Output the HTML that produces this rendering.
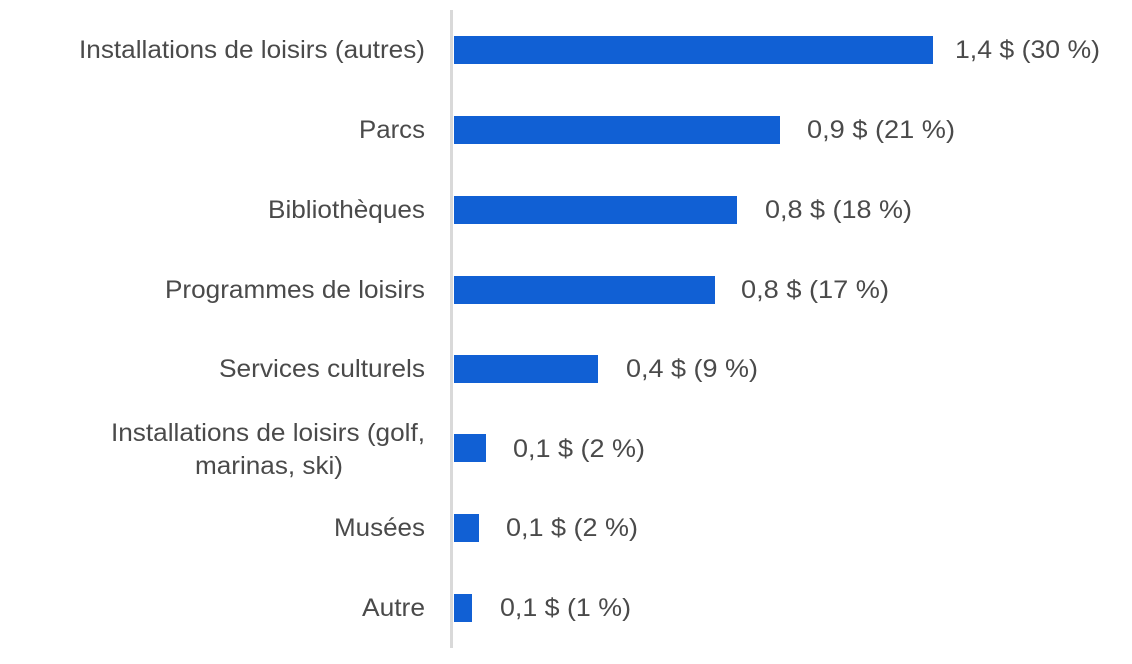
<!DOCTYPE html>
<html><head><meta charset="utf-8"><style>
html,body{margin:0;padding:0;background:#fff;}
svg{display:block}
text{font-family:"Liberation Sans",sans-serif;font-size:25px;fill:#4a4a4a;}
</style></head><body>
<svg width="1132" height="664" viewBox="0 0 1132 664">
<rect x="450" y="10" width="3" height="638" fill="#d9d9d9"/>
<g fill="#1160d4">
<rect x="454" y="36" width="479" height="28"/>
<rect x="454" y="116" width="326" height="28"/>
<rect x="454" y="196" width="283" height="28"/>
<rect x="454" y="276" width="261" height="28"/>
<rect x="454" y="355" width="144" height="28"/>
<rect x="454" y="434" width="32" height="28"/>
<rect x="454" y="514" width="25" height="28"/>
<rect x="454" y="594" width="18" height="28"/>
</g>
<g lengthAdjust="spacingAndGlyphs">
<text x="79" y="58" textLength="346" lengthAdjust="spacingAndGlyphs">Installations de loisirs (autres)</text>
<text x="359" y="138" textLength="66" lengthAdjust="spacingAndGlyphs">Parcs</text>
<text x="268" y="218" textLength="157" lengthAdjust="spacingAndGlyphs">Bibliothèques</text>
<text x="165" y="298" textLength="260" lengthAdjust="spacingAndGlyphs">Programmes de loisirs</text>
<text x="219" y="377" textLength="206" lengthAdjust="spacingAndGlyphs">Services culturels</text>
<text x="111" y="441" textLength="314" lengthAdjust="spacingAndGlyphs">Installations de loisirs (golf,</text>
<text x="195" y="474" textLength="148" lengthAdjust="spacingAndGlyphs">marinas, ski)</text>
<text x="334" y="536" textLength="91" lengthAdjust="spacingAndGlyphs">Musées</text>
<text x="362" y="616" textLength="63" lengthAdjust="spacingAndGlyphs">Autre</text>
<text x="955" y="58" textLength="145" lengthAdjust="spacingAndGlyphs">1,4 $ (30 %)</text>
<text x="807" y="138" textLength="148" lengthAdjust="spacingAndGlyphs">0,9 $ (21 %)</text>
<text x="765" y="218" textLength="147" lengthAdjust="spacingAndGlyphs">0,8 $ (18 %)</text>
<text x="741" y="298" textLength="148" lengthAdjust="spacingAndGlyphs">0,8 $ (17 %)</text>
<text x="626" y="377" textLength="132" lengthAdjust="spacingAndGlyphs">0,4 $ (9 %)</text>
<text x="513" y="457" textLength="132" lengthAdjust="spacingAndGlyphs">0,1 $ (2 %)</text>
<text x="506" y="536" textLength="132" lengthAdjust="spacingAndGlyphs">0,1 $ (2 %)</text>
<text x="500" y="616" textLength="131" lengthAdjust="spacingAndGlyphs">0,1 $ (1 %)</text>
</g>
</svg>
</body></html>
